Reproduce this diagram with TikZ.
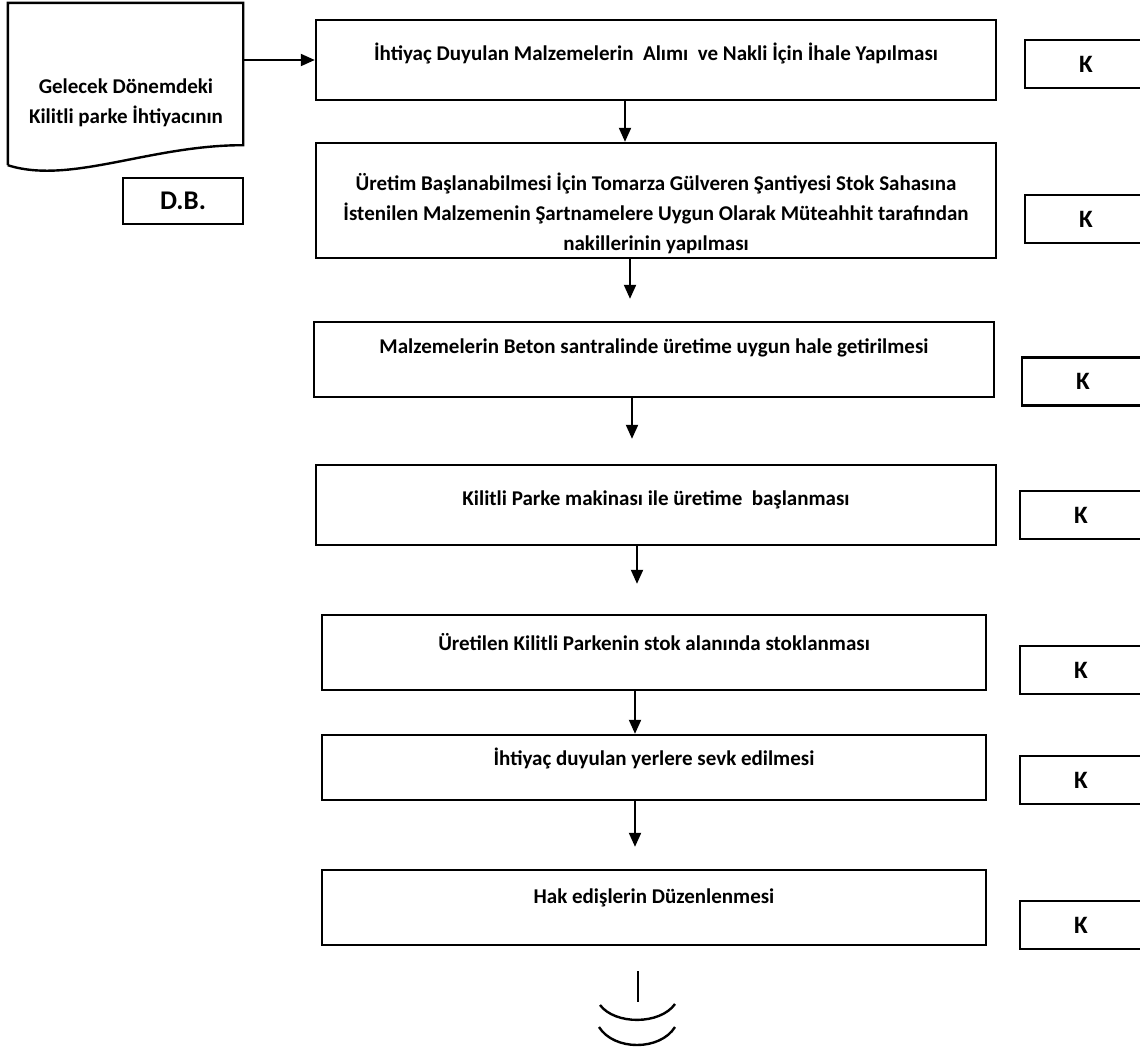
\documentclass[tikz,border=0pt]{standalone}
\usepackage{fontspec}
\setmainfont{Carlito}
\usetikzlibrary{arrows.meta,positioning}
\begin{document}
\begin{tikzpicture}[x=1pt,y=-1pt,
box/.style ={rectangle, draw, line width=2.4pt, minimum width=680pt},
kbox/.style ={rectangle, draw, line width=2.2pt,
  minimum width=122pt, minimum height=48pt,
  font=\fontsize{25}{28}\selectfont\bfseries
},
txt/.style ={font=\fontsize{21}{30}\selectfont\bfseries,
  align=center, inner sep=0pt
},
flow/.style ={line width=2pt, -{Triangle[length=14pt,width=12pt]}},
line/.style ={line width=2.4pt}]
\useasboundingbox (0,0) rectangle (1140,1050);
\fill[white] (0,0) rectangle (1140,1050);

% source document
\node (doc) at (125.5,84) [minimum width=235pt, minimum height=162pt] {};
\draw[line] (doc.south west) -- (doc.north west) -- (doc.north east)
  -- ([yshift=20pt]doc.south east)
  .. controls (150,145) and (70,185) .. (doc.south west);
\node (doctext) at (126,103) [txt] {Gelecek Dönemdeki\\Kilitli parke İhtiyacının};
\node (db) at (183,201) [kbox, minimum width=120pt, minimum height=46pt,
  font=\fontsize{27}{30}\selectfont\bfseries] {D.B.};

% steps
\node (s1) at (656,60) [box, minimum height=80pt] {};
\node (s2) at (656,200.5) [box, minimum height=115pt] {};
\node (s3) at (654,359.5) [box, minimum height=75pt] {};
\node (s4) at (656,505) [box, minimum height=80pt] {};
\node (s5) at (654,652.5) [box, minimum width=664pt, minimum height=75pt] {};
\node (s6) at (654,767.5) [box, minimum width=664pt, minimum height=65pt] {};
\node (s7) at (654,907.5) [box, minimum width=664pt, minimum height=75pt] {};

\node (t1) at (656,53) [txt] {İhtiyaç Duyulan Malzemelerin~ Alımı~ ve Nakli İçin İhale Yapılması};
\node (t2) at (656,213) [txt] {Üretim Başlanabilmesi İçin Tomarza Gülveren Şantiyesi Stok Sahasına\\
  İstenilen Malzemenin Şartnamelere Uygun Olarak Müteahhit tarafından\\
  nakillerinin yapılması};
\node (t3) at (654,348) [txt] {Malzemelerin Beton santralinde üretime uygun hale getirilmesi};
\node (t4) at (656,500) [txt] {Kilitli Parke makinası ile üretime~ başlanması};
\node (t5) at (654,642) [txt] {Üretilen Kilitli Parkenin stok alanında stoklanması};
\node (t6) at (654,758) [txt] {İhtiyaç duyulan yerlere sevk edilmesi};
\node (t7) at (654,898) [txt] {Hak edişlerin Düzenlenmesi};

% control boxes
\node (k1) at (1086,64) [kbox] {K};
\node (k2) at (1086,219) [kbox] {K};
\node (k3) at (1083,381.5) [kbox] {K};
\node (k4) at (1081,515) [kbox] {K};
\node (k5) at (1081,670) [kbox] {K};
\node (k6) at (1081,780) [kbox] {K};
\node (k7) at (1081,925) [kbox] {K};

% connectors
\draw[flow] (doc.east |- s1.west) -- (s1.west);
\draw[flow] (s1.south -| 625,0) -- (s2.north -| 625,0);
\draw[flow, shorten >=22pt] (s2.south -| 630,0) -- (s3.north -| 630,0);
\draw[flow, shorten >=25pt] (s3.south -| 632,0) -- (s4.north -| 632,0);
\draw[flow, shorten >=30pt] (s4.south -| 637,0) -- (s5.north -| 637,0);
\draw[flow] (s5.south -| 635,0) -- (s6.north -| 635,0);
\draw[flow, shorten >=22pt] (s6.south -| 635,0) -- (s7.north -| 635,0);

% end mark
\coordinate (e) at (638,1002);
\draw[line, shorten <=25pt] (s7.south -| e) -- (e);
\draw[line] (600,1005) .. controls (615,1025) and (660,1025) .. (675,1004);
\draw[line] (599,1027) .. controls (614,1051) and (660,1051) .. (675,1027);
\end{tikzpicture}
\end{document}
